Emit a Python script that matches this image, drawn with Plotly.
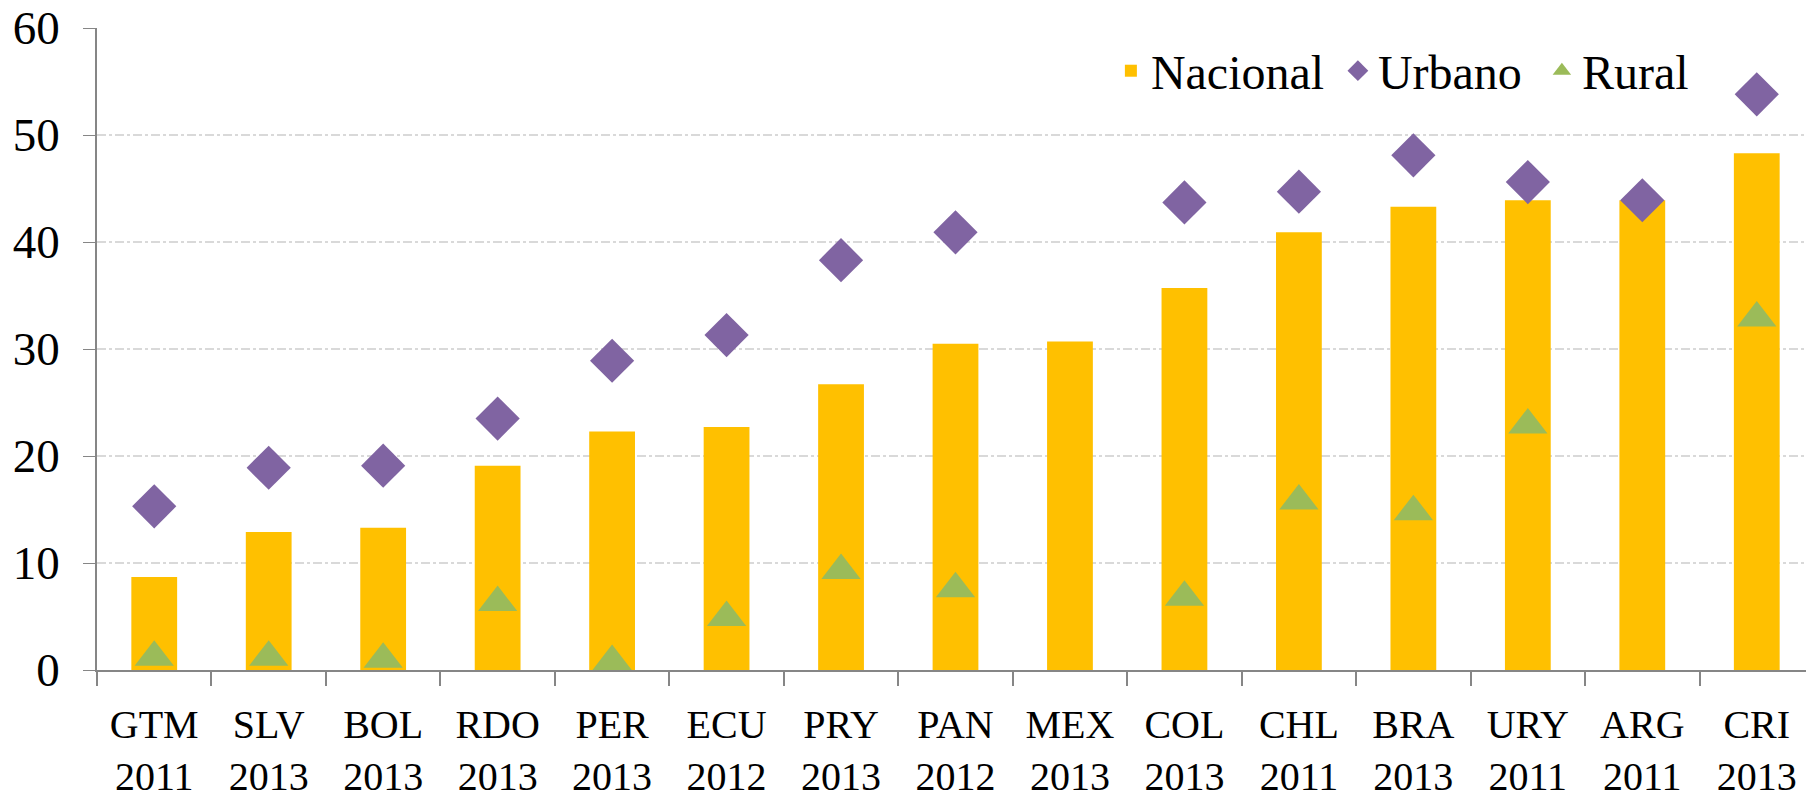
import plotly.graph_objects as go

paises = ["GTM", "SLV", "BOL", "RDO", "PER", "ECU", "PRY", "PAN", "MEX", "COL", "CHL", "BRA", "URY", "ARG", "CRI"]
anios = ["2011", "2013", "2013", "2013", "2013", "2012", "2013", "2012", "2013", "2013", "2011", "2013", "2011", "2011", "2013"]
nacional = [8.7, 12.9, 13.3, 19.1, 22.3, 22.7, 26.7, 30.5, 30.7, 35.7, 40.9, 43.3, 43.9, 43.9, 48.3]
urbano = [15.3, 18.9, 19.1, 23.5, 28.9, 31.3, 38.3, 40.9, None, 43.7, 44.7, 48.1, 45.6, 43.9, 53.8]
rural = [1.2, 1.2, 1.0, 6.3, 0.8, 4.9, 9.3, 7.6, None, 6.8, 15.8, 14.8, 22.9, None, 32.9]

categorias = [f"{p}<br>{a}" for p, a in zip(paises, anios)]
FONT = "Liberation Serif, DejaVu Serif, serif"

fig = go.Figure()
fig.add_trace(go.Bar(x=categorias, y=nacional, name="Nacional", legendwidth=182,
                     marker=dict(color="#FFC000", line=dict(width=0)), width=0.4))
fig.add_trace(go.Scatter(x=categorias, y=urbano, name="Urbano", mode="markers", legendwidth=159,
                         marker=dict(symbol="diamond", size=34, color="#8064A2"),
                         cliponaxis=False))
fig.add_trace(go.Scatter(x=categorias, y=rural, name="Rural", mode="markers",
                         marker=dict(symbol="triangle-up", size=34, color="#9BBB59"),
                         cliponaxis=False))

# page body has an 8px margin: compensate so the plot lands where the reference has it
fig.update_layout(
    width=1806, height=784,
    margin=dict(l=89, r=0, t=20, b=122, autoexpand=False),
    paper_bgcolor="white", plot_bgcolor="white",
    font=dict(family=FONT, color="black"),
    showlegend=True,
    legend=dict(orientation="h", x=0.5905, xanchor="left", y=0.933, yanchor="middle",
                font=dict(family=FONT, size=48, color="black"),
                bgcolor="rgba(0,0,0,0)", itemsizing="trace", traceorder="normal"),
    bargap=0.6,
)
fig.update_xaxes(
    type="category", range=[-0.5, 14.5], automargin=False,
    showline=True, linecolor="#868686", linewidth=2,
    ticks="outside", ticklen=14, tickcolor="#868686", tickwidth=1.5,
    tickson="boundaries", showgrid=False, ticklabelstandoff=18,
    tickfont=dict(family=FONT, size=40, color="black"),
)
fig.update_yaxes(
    range=[0, 60], tickvals=[0, 10, 20, 30, 40, 50, 60], automargin=False,
    showline=True, linecolor="#868686", linewidth=1.5,
    ticks="outside", ticklen=12, tickcolor="#868686",
    showgrid=True, gridcolor="#D9D9D9", griddash="dashdot", gridwidth=1.5,
    zeroline=False, ticklabelstandoff=14, ticklabeloverflow="allow",
    tickfont=dict(family=FONT, size=47, color="black"),
)

fig.write_html("out.html")
